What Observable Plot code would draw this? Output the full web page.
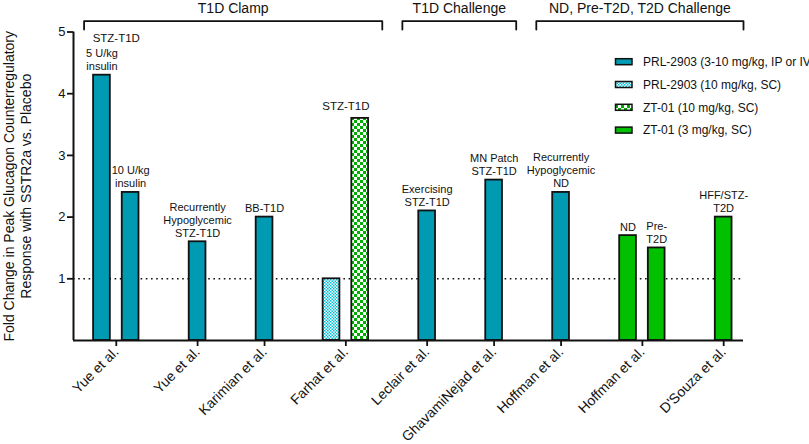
<!DOCTYPE html>
<html><head><meta charset="utf-8">
<script src="https://cdn.jsdelivr.net/npm/d3@7"></script>
<script src="https://cdn.jsdelivr.net/npm/@observablehq/plot@0.6"></script>
<style>body{margin:0;background:#fff;font-family:"Liberation Sans",Arial,sans-serif}#chart svg{display:block}</style>
</head><body><div id="chart"></div>
<script>
// ---- data ----
const studies = ["Yue et al.","Yue et al.","Karimian et al.","Farhat et al.","Leclair et al.","GhavamiNejad et al.","Hoffman et al.","Hoffman et al.","D'Souza et al."];
const studyNotes = ["STZ-T1D","","","STZ-T1D","","","","",""];
const barStudy = [0,0,1,2,3,3,4,5,6,7,7,8];
const barValues = [4.3,2.4,1.6,2.0,1.0,3.6,2.1,2.6,2.4,1.7,1.5,2.0];
const seriesNames = ["PRL-2903 (3-10 mg/kg, IP or IV)","PRL-2903 (10 mg/kg, SC)","ZT-01 (10 mg/kg, SC)","ZT-01 (3 mg/kg, SC)"];
const barSeries = [0,0,0,0,1,2,0,0,0,3,3,3];
const barNotes = ["5 U/kg\ninsulin","10 U/kg\ninsulin","Recurrently\nHypoglycemic\nSTZ-T1D","BB-T1D","","","Exercising\nSTZ-T1D","MN Patch\nSTZ-T1D","Recurrently\nHypoglycemic\nND","ND","Pre-\nT2D","HFF/STZ-\nT2D"];
const sections = ["T1D Clamp","T1D Challenge","ND, Pre-T2D, T2D Challenge"];
const sectionStudies = [[0,3],[4,5],[6,8]];
const yTicks = [1,2,3,4,5];
const referenceValue = 1;
const yTitle = "Fold Change in Peak Glucagon Counterregulatory\nResponse with SSTR2a vs. Placebo";

// ---- layout (derived) ----
const GROUP_STEP = 1, PAIR_STEP = 0.428, BAR_W = 0.25;
const xDomain = [-0.425, 9.58];
let p = 0;
const pos = barStudy.map((s, i) => { if (i > 0) p += (s === barStudy[i - 1]) ? PAIR_STEP : GROUP_STEP; return p; });
const bars = barValues.map((v, i) => ({i, value: v, pos: pos[i], study: barStudy[i], series: seriesNames[barSeries[i]], note: barNotes[i]}));
const studyCenter = studies.map((_, s) => d3.mean(bars.filter(b => b.study === s), b => b.pos));
const labelByPos = new Map(studyCenter.map((c, s) => [c, studies[s]]));
const firstBar = s => bars.find(b => b.study === s).i;
const lastBar = s => bars.filter(b => b.study === s).at(-1).i;
const brackets = sections.map((name, k) => {
  const [s0, s1] = sectionStudies[k];
  const a = firstBar(s0), b = lastBar(s1);
  const x1 = a === 0 ? pos[a] - 0.267 : (pos[a] + pos[a - 1]) / 2 + 0.13;
  const x2 = b === bars.length - 1 ? xDomain[1] : (pos[b] + pos[b + 1]) / 2 - 0.17;
  return {name, x1, x2};
});
const yTop = 5.175, yEnd = 5.04, yTitleSec = 5.386;
const bracketPts = brackets.flatMap(b => [
  {k: b.name, x: b.x1, y: yEnd}, {k: b.name, x: b.x1, y: yTop}, {k: b.name, x: b.x2, y: yTop}, {k: b.name, x: b.x2, y: yEnd}]);

const TEAL = "#009AB2", GREEN = "#00C000";
const fills = [TEAL, "url(#patPrl)", "url(#patZt)", GREEN];
const font = "'Liberation Sans', Arial, sans-serif";

const studyNoteMarks = studyNotes.map((n, s) => {
  if (!n) return null;
  const sb = bars.filter(b => b.study === s);
  const top = sb.reduce((a, b) => b.value > a.value ? b : a);
  const lines = top.note ? top.note.split("\n").length : 0;
  return Plot.text([n], {x: studyCenter[s], y: top.value, text: d => d, lineAnchor: "bottom", dy: -(8 + lines * 12.4), fontSize: 11.5, fill: "#111"});
}).filter(Boolean);

const chart = Plot.plot({
  width: 809, height: 444,
  marginLeft: 73, marginRight: 66, marginTop: 31.5, marginBottom: 104,
  style: {fontFamily: font, color: "#111", background: "#fff", overflow: "visible"},
  x: {type: "linear", domain: xDomain, axis: null},
  y: {domain: [0, 5], axis: null},
  color: {type: "ordinal", domain: seriesNames, range: fills},
  marks: [
    Plot.ruleY([referenceValue], {stroke: "#111", strokeWidth: 1.6, strokeDasharray: "1.6,3.6"}),
    Plot.rectY(bars, {x1: d => d.pos - BAR_W / 2, x2: d => d.pos + BAR_W / 2, y1: 0, y2: "value", fill: "series", stroke: "#111", strokeWidth: 1.8}),
    Plot.text(bars.filter(b => b.note), {x: "pos", y: "value", text: "note", lineAnchor: "bottom", dy: -5, fontSize: 11, lineHeight: 1.18, fill: "#111"}),
    ...studyNoteMarks,
    Plot.axisY({ticks: yTicks, tickFormat: d3.format("d"), tickSize: 6, tickPadding: 2, fontSize: 13, label: null, strokeWidth: 1.8, fill: "#111", stroke: "#111"}),
    Plot.axisX(studyCenter, {tickFormat: d => labelByPos.get(d), tickRotate: -45, tickSize: 6, tickPadding: 3, fontSize: 14, label: null, strokeWidth: 1.8, fill: "#111", stroke: "#111"}),
    Plot.ruleY([0], {strokeWidth: 2, stroke: "#111"}),
    Plot.ruleX([xDomain[0]], {y1: 0, y2: 5, strokeWidth: 2, stroke: "#111"}),
    Plot.line(bracketPts, {x: "x", y: "y", z: "k", stroke: "#111", strokeWidth: 1.8}),
    Plot.text(brackets, {x: d => (d.x1 + d.x2) / 2, y: yTitleSec, text: "name", fontSize: 14, fill: "#111"}),
    Plot.text([yTitle], {frameAnchor: "left", textAnchor: "middle", rotate: -90, dx: -56, text: d => d, fontSize: 14, lineHeight: 1.2, fill: "#111"})
  ]
});

// pattern defs
const svg = d3.select(chart);
const defs = svg.insert("defs", ":first-child");
const p1 = defs.append("pattern").attr("id", "patPrl").attr("patternUnits", "userSpaceOnUse").attr("width", 3).attr("height", 3);
p1.append("rect").attr("width", 3).attr("height", 3).attr("fill", "#fff");
p1.append("rect").attr("width", 1.5).attr("height", 1.5).attr("fill", "#00C0D8");
p1.append("rect").attr("x", 1.5).attr("y", 1.5).attr("width", 1.5).attr("height", 1.5).attr("fill", "#00C0D8");
const p2 = defs.append("pattern").attr("id", "patZt").attr("patternUnits", "userSpaceOnUse").attr("width", 6).attr("height", 6);
p2.append("rect").attr("width", 6).attr("height", 6).attr("fill", "#fff");
p2.append("rect").attr("width", 3).attr("height", 3).attr("fill", "#00B000");
p2.append("rect").attr("x", 3).attr("y", 3).attr("width", 3).attr("height", 3).attr("fill", "#00B000");

// legend (inside the svg, top right)
const lg = svg.append("g").attr("font-family", font).attr("font-size", 12).attr("fill", "#111").attr("text-anchor", "start");
seriesNames.forEach((name, k) => {
  const cy = 61.7 + k * 22.8;
  lg.append("rect").attr("x", 615.5).attr("y", cy - 3).attr("width", 16.5).attr("height", 6)
    .attr("fill", fills[k]).attr("stroke", "#111").attr("stroke-width", 1.5);
  lg.append("text").attr("x", 643).attr("y", cy).attr("dy", "0.35em").attr("text-anchor", "start").text(name);
});

document.getElementById("chart").appendChild(chart);
</script>
</body></html>
